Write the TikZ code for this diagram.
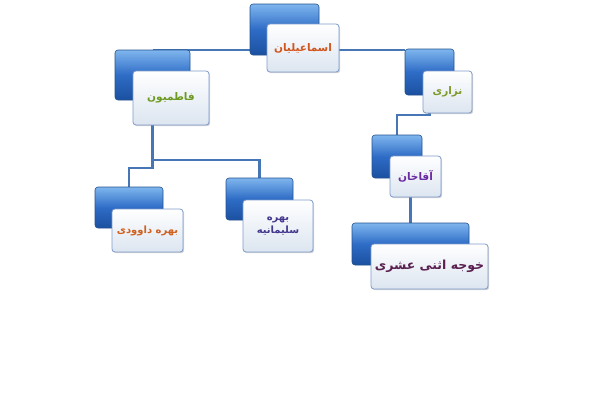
\documentclass[tikz,border=0pt]{standalone}
\usepackage{fontspec}
\usetikzlibrary{shadows,backgrounds}
\newfontfamily\arabicfont[Script=Arabic]{DejaVu Sans}
\TeXXeTstate=1
\definecolor{conncol}{HTML}{4676B6}
\definecolor{bluetop}{HTML}{7FB6EE}
\definecolor{bluemid}{HTML}{2E6CC6}
\definecolor{bluebot}{HTML}{1B50A0}
\definecolor{blueedge}{HTML}{24528F}
\definecolor{whiteedge}{HTML}{7D9BCB}
\definecolor{whitebot}{HTML}{DCE5F0}
\definecolor{ctop}{HTML}{D0561E}
\definecolor{cfat}{HTML}{6E9A22}
\definecolor{cniz}{HTML}{7E9A2A}
\definecolor{caqa}{HTML}{6A2AA0}
\definecolor{cdav}{HTML}{D0601E}
\definecolor{csul}{HTML}{44388E}
\definecolor{ckhoj}{HTML}{5A2050}
\tikzset{
  conn/.style={draw=conncol, line width=2.4pt},
  bluebox/.style={rectangle, rounded corners=3pt, draw=blueedge, line width=0.6pt,
    top color=bluetop, bottom color=bluebot, middle color=bluemid, inner sep=0pt},
  whitebox/.style={rectangle, rounded corners=3pt, draw=whiteedge, line width=0.8pt,
    top color=white, bottom color=whitebot, inner sep=0pt, align=center,
    drop shadow={shadow xshift=1.2pt, shadow yshift=-1.2pt, opacity=0.35}},
}
\begin{document}
\begin{tikzpicture}[x=1pt,y=-1pt]
\useasboundingbox (0,0) rectangle (600,400);
% blue boxes
\node[bluebox, minimum width=69pt, minimum height=51pt] (topB) at (284.5,29.5) {};
\node[bluebox, minimum width=75pt, minimum height=50pt] (fatB) at (152.5,75) {};
\node[bluebox, minimum width=49pt, minimum height=46pt] (nizB) at (429.5,72) {};
\node[bluebox, minimum width=50pt, minimum height=43pt] (aqaB) at (397,156.5) {};
\node[bluebox, minimum width=117pt, minimum height=42pt] (khojB) at (410.5,244) {};
\node[bluebox, minimum width=68pt, minimum height=41pt] (davB) at (129,207.5) {};
\node[bluebox, minimum width=67pt, minimum height=42pt] (sulB) at (259.5,199) {};
% white boxes
\node[whitebox, minimum width=72pt, minimum height=48pt, text=ctop, font=\arabicfont\bfseries\fontsize{10.5}{13}\selectfont] (topW) at (303,48) {\beginR اسماعیلیان\endR};
\node[whitebox, minimum width=76pt, minimum height=54pt, text=cfat, font=\arabicfont\bfseries\fontsize{10.5}{12}\selectfont] (fatW) at (171,98) {\beginR فاطمیون\endR};
\node[whitebox, minimum width=49pt, minimum height=42pt, text=cniz, font=\arabicfont\bfseries\fontsize{10.5}{12}\selectfont] (nizW) at (447.5,92) {\beginR نزاری\endR};
\node[whitebox, minimum width=51pt, minimum height=41pt, text=caqa, font=\arabicfont\bfseries\fontsize{10.5}{12}\selectfont] (aqaW) at (415.5,176.5) {\beginR آقاخان\endR};
\node[whitebox, minimum width=117pt, minimum height=45pt, text=ckhoj, font=\arabicfont\bfseries\fontsize{12.5}{15}\selectfont] (khojW) at (429.5,266.5) {\beginR خوجه اثنی عشری\endR};
\node[whitebox, minimum width=71pt, minimum height=43pt, text=cdav, font=\arabicfont\bfseries\fontsize{10}{12}\selectfont] (davW) at (147.5,230.5) {\beginR بهره داوودی\endR};
\node[whitebox, minimum width=70pt, minimum height=52pt, text=csul, font=\arabicfont\bfseries\fontsize{10}{13}\selectfont] (sulW) at (278,226) {\beginR بهره\endR\\\beginR سلیمانیه\endR};
% junctions
\coordinate (jsul) at (152.5,160);
\coordinate (jdav) at (152.5,168);
\coordinate (jaqa) at (429.5,115);
% connectors behind the boxes
\begin{scope}[on background layer]
\draw[conn] (fatB.north) -- (fatB.north -| nizB.west);
\draw[conn] (fatB.center) -- (jdav) -| (davB.north);
\draw[conn] (jsul) -| (sulB.north);
\draw[conn] (nizB.center) -- (jaqa) -| (aqaB.north);
\draw[conn] (aqaW.center -| khojB.north) -- (khojB.north);
\end{scope}
\end{tikzpicture}
\end{document}
